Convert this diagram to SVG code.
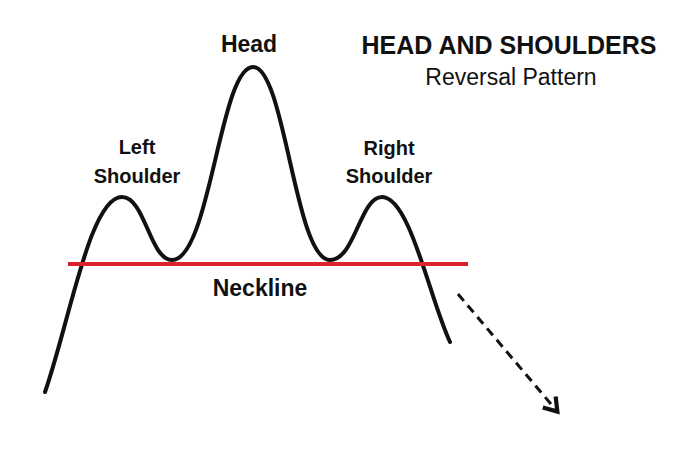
<svg xmlns="http://www.w3.org/2000/svg" width="690" height="460" viewBox="0 0 690 460">
<style>
.t{font-family:"Liberation Sans",Arial,sans-serif;fill:#111;text-anchor:middle;font-size:20px}
.b{font-weight:bold}
</style>
<defs><marker id="ah" viewBox="0 0 10 10" refX="6" refY="5" markerWidth="7" markerHeight="7" orient="auto"><path d="M1,1 L7,5 L1,9" fill="none" stroke="#111" stroke-width="2"/></marker></defs>
<rect width="690" height="460" fill="#fff"/>
<g id="connectors">
<path id="price" d="M45,392 C70,320 90,197 122,197 C145,197 150,260 172,260 C210,260 220,67 253,67 C285,67 295,260 330,260 C355,260 360,197 382,197 C410,197 430,300 450,342" fill="none" stroke="#111" stroke-width="4" stroke-linecap="round"/>
<line id="neckline" x1="68" y1="264" x2="468" y2="264" stroke="#d9232e" stroke-width="4"/>
<line id="arrow" x1="458" y1="294" x2="556" y2="410" stroke="#111" stroke-width="3" stroke-dasharray="9,6" marker-end="url(#ah)"/>
</g>
<g id="head"><text class="t b" x="249" y="52" style="font-size:23px">Head</text></g>
<g id="left"><text class="t b" x="137" y="154">Left</text><text class="t b" x="137" y="183">Shoulder</text></g>
<g id="right"><text class="t b" x="389" y="155">Right</text><text class="t b" x="389" y="183">Shoulder</text></g>
<g id="neck"><text class="t b" x="260" y="296" style="font-size:23px">Neckline</text></g>
<g id="title"><text class="t b" x="509" y="54" style="font-size:25px">HEAD AND SHOULDERS</text><text class="t" x="511" y="85" style="font-size:23px">Reversal Pattern</text></g>
</svg>
